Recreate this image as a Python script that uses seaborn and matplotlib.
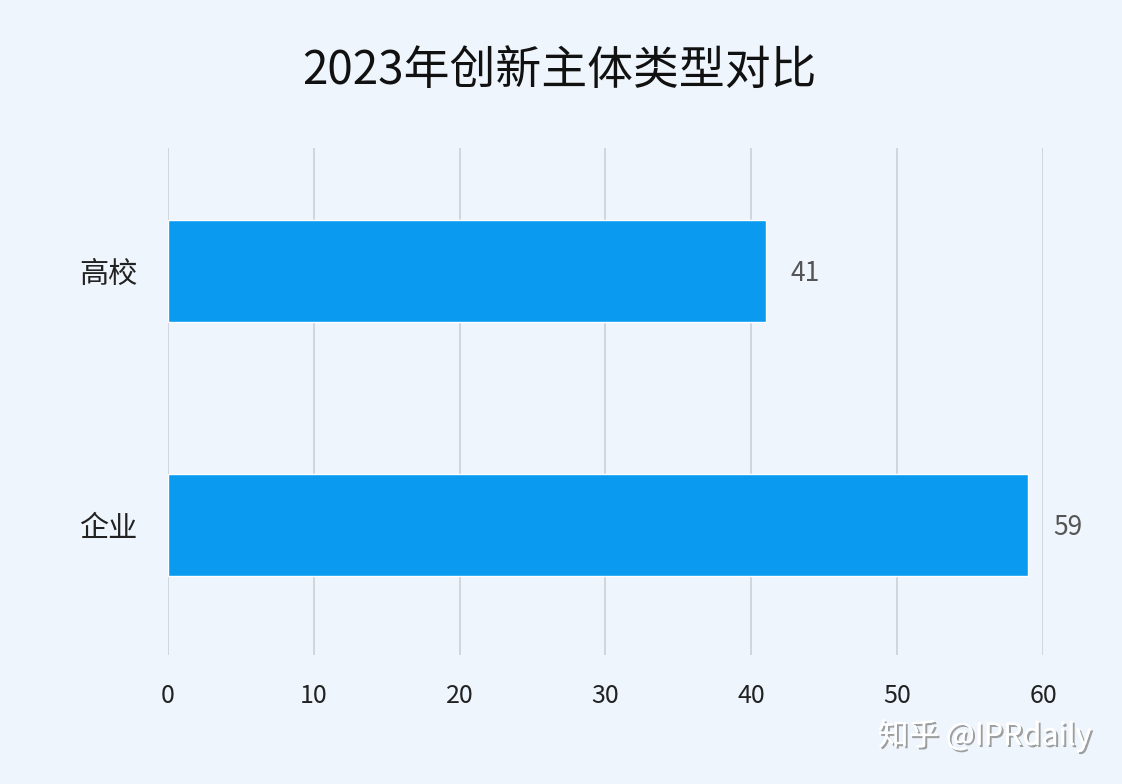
import matplotlib
matplotlib.use("Agg")
import matplotlib.pyplot as plt
import matplotlib.patheffects as pe
import pandas as pd
import seaborn as sns

# ── Data ─────────────────────────────────────────────────────────────────────
categories = ["高校", "企业"]
values     = [41, 59]
x_ticks    = [0, 10, 20, 30, 40, 50, 60]
title      = "2023年创新主体类型对比"

BG      = "#EEF5FC"
BAR     = "#0A9BF0"
GRID    = "#C9CDD2"
TXT     = "#222222"

sns.set_theme(style="white")
plt.rcParams["font.family"] = ["Noto Sans CJK SC", "DejaVu Sans"]

df = pd.DataFrame({"type": categories, "count": values})

fig = plt.figure(figsize=(11.22, 7.84), dpi=100, facecolor=BG)
ax = fig.add_axes([0.1497, 0.1645, 0.7799, 0.6466], facecolor=BG)

sns.barplot(data=df, x="count", y="type", orient="h", color=BAR,
            width=0.405, saturation=1, ax=ax, zorder=3)

ax.set_xlim(0, 60)
ax.set_ylim(1.512, -0.484)
ax.set_xticks(x_ticks)
ax.set_xlabel("")
ax.set_ylabel("")
ax.xaxis.grid(True, color=GRID, linewidth=1.1, zorder=0)
ax.yaxis.grid(False)
for s in ax.spines.values():
    s.set_visible(False)
ax.tick_params(axis="x", length=0, pad=20, labelsize=18, labelcolor=TXT)
ax.tick_params(axis="y", length=0, pad=22, labelsize=21, labelcolor=TXT)

# value labels
for i, v in enumerate(values):
    ax.text(v + 1.7, i + 0.01, f"{v}", va="center", ha="left",
            fontsize=19, color="#555555")

fig.text(0.499, 0.910, title, ha="center", va="center",
         fontsize=33, color="#111111")

# watermark
fig.text(0.973, 0.062, "知乎 @IPRdaily", ha="right", va="center",
         fontsize=22, color="white",
         path_effects=[pe.withSimplePatchShadow(offset=(1.5, -1.5),
                                                shadow_rgbFace="#888888",
                                                alpha=0.8),
                       pe.Normal()])

fig.savefig("out.png", dpi=100, facecolor=BG)
